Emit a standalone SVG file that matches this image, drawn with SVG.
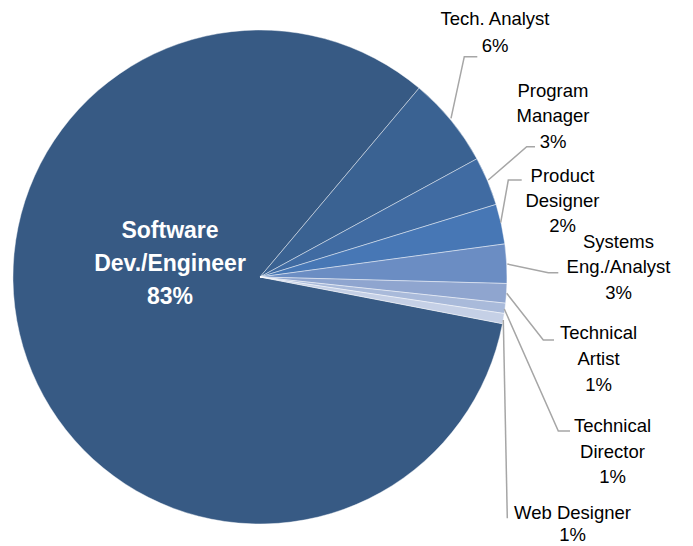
<svg xmlns="http://www.w3.org/2000/svg" width="693" height="546" viewBox="0 0 693 546">
<style>
.sl{stroke:#ffffff;stroke-width:0.8;stroke-opacity:0.55;stroke-linejoin:round}
.ld{fill:none;stroke:#A6A6A6;stroke-width:1.5}
.lb{font-family:"Liberation Sans",Arial,sans-serif;font-size:18.5px;fill:#000000;text-anchor:middle}
.big{font-family:"Liberation Sans",Arial,sans-serif;font-size:23px;font-weight:bold;fill:#ffffff;text-anchor:middle}
</style>
<rect width="693" height="546" fill="#ffffff"/>
<g id="slice-software">
<path class="sl" fill="#375A84" d="M260,277 L502.5,323.7 A247,247 0 1 1 419.1,88.1 Z"/>
</g>
<g id="slice-tech-analyst">
<path class="sl" fill="#3A6292" d="M260,277 L419.1,88.1 A247,247 0 0 1 476.9,158.8 Z"/>
</g>
<g id="slice-program-manager">
<path class="sl" fill="#406BA2" d="M260,277 L476.9,158.8 A247,247 0 0 1 496.1,204.4 Z"/>
</g>
<g id="slice-product-designer">
<path class="sl" fill="#4777B5" d="M260,277 L496.1,204.4 A247,247 0 0 1 504.8,243.9 Z"/>
</g>
<g id="slice-systems">
<path class="sl" fill="#6B8DC3" d="M260,277 L504.8,243.9 A247,247 0 0 1 506.9,283.5 Z"/>
</g>
<g id="slice-technical-artist">
<path class="sl" fill="#8FA5CF" d="M260,277 L506.9,283.5 A247,247 0 0 1 505.6,303.2 Z"/>
</g>
<g id="slice-technical-director">
<path class="sl" fill="#A9BADA" d="M260,277 L505.6,303.2 A247,247 0 0 1 504.3,313.5 Z"/>
</g>
<g id="slice-web-designer">
<path class="sl" fill="#C5D0E6" d="M260,277 L504.3,313.5 A247,247 0 0 1 502.5,323.7 Z"/>
</g>
<g id="connectors">
<polyline class="ld" points="451,118.3 464.3,56.7 477.3,56.7"/>
<polyline class="ld" points="488.3,180 526.7,146.7 535,146.7"/>
<polyline class="ld" points="500.7,222.7 508.3,180 521.7,180"/>
<polyline class="ld" points="507.3,264 548.3,272.7 558.3,272.7"/>
<polyline class="ld" points="506.7,293.3 543.3,340 554,340"/>
<polyline class="ld" points="504.3,309 558.3,431 570,431"/>
<polyline class="ld" points="503.3,320 507.3,518.3"/>
</g>
<g id="label-software">
<text class="big" x="170" y="238">Software</text>
<text class="big" x="170" y="270.5">Dev./Engineer</text>
<text class="big" x="170" y="303.5">83%</text>
</g>
<g id="label-tech-analyst">
<text class="lb" x="495" y="25">Tech. Analyst</text>
<text class="lb" x="495" y="51.5">6%</text>
</g>
<g id="label-program-manager">
<text class="lb" x="553" y="96.5">Program</text>
<text class="lb" x="553" y="122">Manager</text>
<text class="lb" x="553" y="148">3%</text>
</g>
<g id="label-product-designer">
<text class="lb" x="562.5" y="181.5">Product</text>
<text class="lb" x="562.5" y="207">Designer</text>
<text class="lb" x="562.5" y="232">2%</text>
</g>
<g id="label-systems">
<text class="lb" x="618.5" y="247.5">Systems</text>
<text class="lb" x="618.5" y="273">Eng./Analyst</text>
<text class="lb" x="618.5" y="299">3%</text>
</g>
<g id="label-technical-artist">
<text class="lb" x="598.5" y="339">Technical</text>
<text class="lb" x="598.5" y="365">Artist</text>
<text class="lb" x="598.5" y="391">1%</text>
</g>
<g id="label-technical-director">
<text class="lb" x="612.5" y="431.5">Technical</text>
<text class="lb" x="612.5" y="457.5">Director</text>
<text class="lb" x="612.5" y="483">1%</text>
</g>
<g id="label-web-designer">
<text class="lb" x="572.5" y="519">Web Designer</text>
<text class="lb" x="572.5" y="541">1%</text>
</g>
</svg>
